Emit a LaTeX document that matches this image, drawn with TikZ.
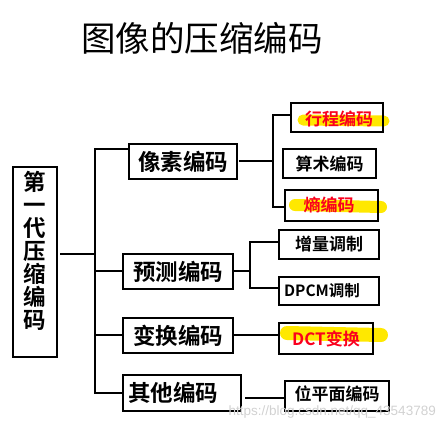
\documentclass[tikz,border=0pt]{standalone}
\usepackage{fontspec}
\setmainfont{Liberation Sans}
\newfontfamily\cjk{Noto Sans CJK SC}
\newfontfamily\cjkb{Noto Sans CJK SC Bold}
\definecolor{hl}{RGB}{255,232,0}
\definecolor{redtxt}{RGB}{250,0,30}
\begin{document}
\begin{tikzpicture}[x=1pt,y=-1pt,
  box/.style={draw,line width=1.2pt,inner sep=0pt,rectangle},
  big/.style={font=\cjkb\fontsize{22.5}{24}\selectfont},
  small/.style={font=\cjkb\fontsize{17}{18}\selectfont},
  conn/.style={line width=1.1pt}]
\useasboundingbox (0,0) rectangle (445,429);
\node[font=\cjk\fontsize{34.5}{36}\selectfont] (title) at (202,38) {图像的压缩编码};
% left box
\node[box,minimum width=44pt,minimum height=190pt] (L) at (35,262) {};
\node[font=\cjkb\fontsize{22.5}{23}\selectfont,align=center,inner sep=0pt] (Lt) at (35,251) {第\\一\\代\\压\\缩\\编\\码};
% second level
\node[box,big,minimum width=108pt,minimum height=35pt] (A) at (183,161.5) {像素编码};
\node[box,big,minimum width=110pt,minimum height=35pt] (B) at (178,271.5) {预测编码};
\node[box,big,minimum width=110pt,minimum height=35pt] (C) at (178,335.5) {变换编码};
\node[box,big,minimum width=118pt,minimum height=36pt,text width=108pt] (D) at (182,393) {其他编码};
% highlights
\draw[hl,line width=11pt,line cap=round] (303,120) -- (384,121);
\draw[hl,line width=12pt,line cap=round] (295,205) -- (381,207);
\draw[hl,line width=14pt,line cap=round] (287,333) -- (381,335);
% third level
\node[box,minimum width=92pt,minimum height=29pt] (A1) at (337,117.5) {};
\node[small,text=redtxt] (A1t) at (339,119) {行程编码};
\node[box,small,minimum width=93pt,minimum height=29pt] (A2) at (329.5,163.5) {算术编码};
\node[box,minimum width=93pt,minimum height=31pt] (A3) at (331.5,205.5) {};
\node[small,text=redtxt] (A3t) at (329,205) {熵编码};
\node[box,small,minimum width=100pt,minimum height=29pt] (B1) at (329,244.5) {增量调制};
\node[box,minimum width=100pt,minimum height=28pt] (B2) at (329,291) {};
\node[font=\cjkb\fontsize{15.5}{18}\selectfont] (B2t) at (322,291) {DPCM调制};
\node[box,minimum width=94pt,minimum height=31pt] (C1) at (326,338.5) {};
\node[small,text=redtxt] (C1t) at (326,339) {DCT变换};
\node[box,minimum width=104pt,minimum height=30pt] (D1) at (337,396) {};
\node[small,inner sep=0pt] (D1t) at (337,394) {位平面编码};
% watermark
\node[text=black!18,font=\fontsize{13.5}{15}\selectfont,anchor=east,inner sep=0pt] (wm) at (436,412) {https://blog.csdn.net/qq\_43543789};
% trunk
\coordinate (t0) at (95,254);
\coordinate (tA) at (95,149);
\coordinate (tB) at (95,271);
\coordinate (tC) at (95,335);
\coordinate (tD) at (95,393);
\draw[conn] (60,254) coordinate (l0) -- (t0);
\draw[conn] (A.west |- tA) -- (tA) -- (tD) -- (D.west |- tD);
\draw[conn] (tB) -- (tB -| B.west);
\draw[conn] (tC) -- (tC -| C.west);
% A branch
\coordinate (aj) at (273,161);
\draw[conn] (239,161) -- (aj);
\draw[conn] (A1.west |- 0,115) -- (273,115) -- (273,207) -- (A3.west |- 0,207);
% B branch
\coordinate (bj) at (250,271);
\draw[conn] (B.east |- bj) -- (bj);
\draw[conn] (B1.west |- 0,242) -- (250,242) -- (250,288) -- (B2.west |- 0,288);
% C branch
\draw[conn] (C.east |- 0,335) -- (C1.west |- 0,335);
% D branch
\draw[conn] (245,398) -- (D1.west |- 0,398);
\end{tikzpicture}
\end{document}
